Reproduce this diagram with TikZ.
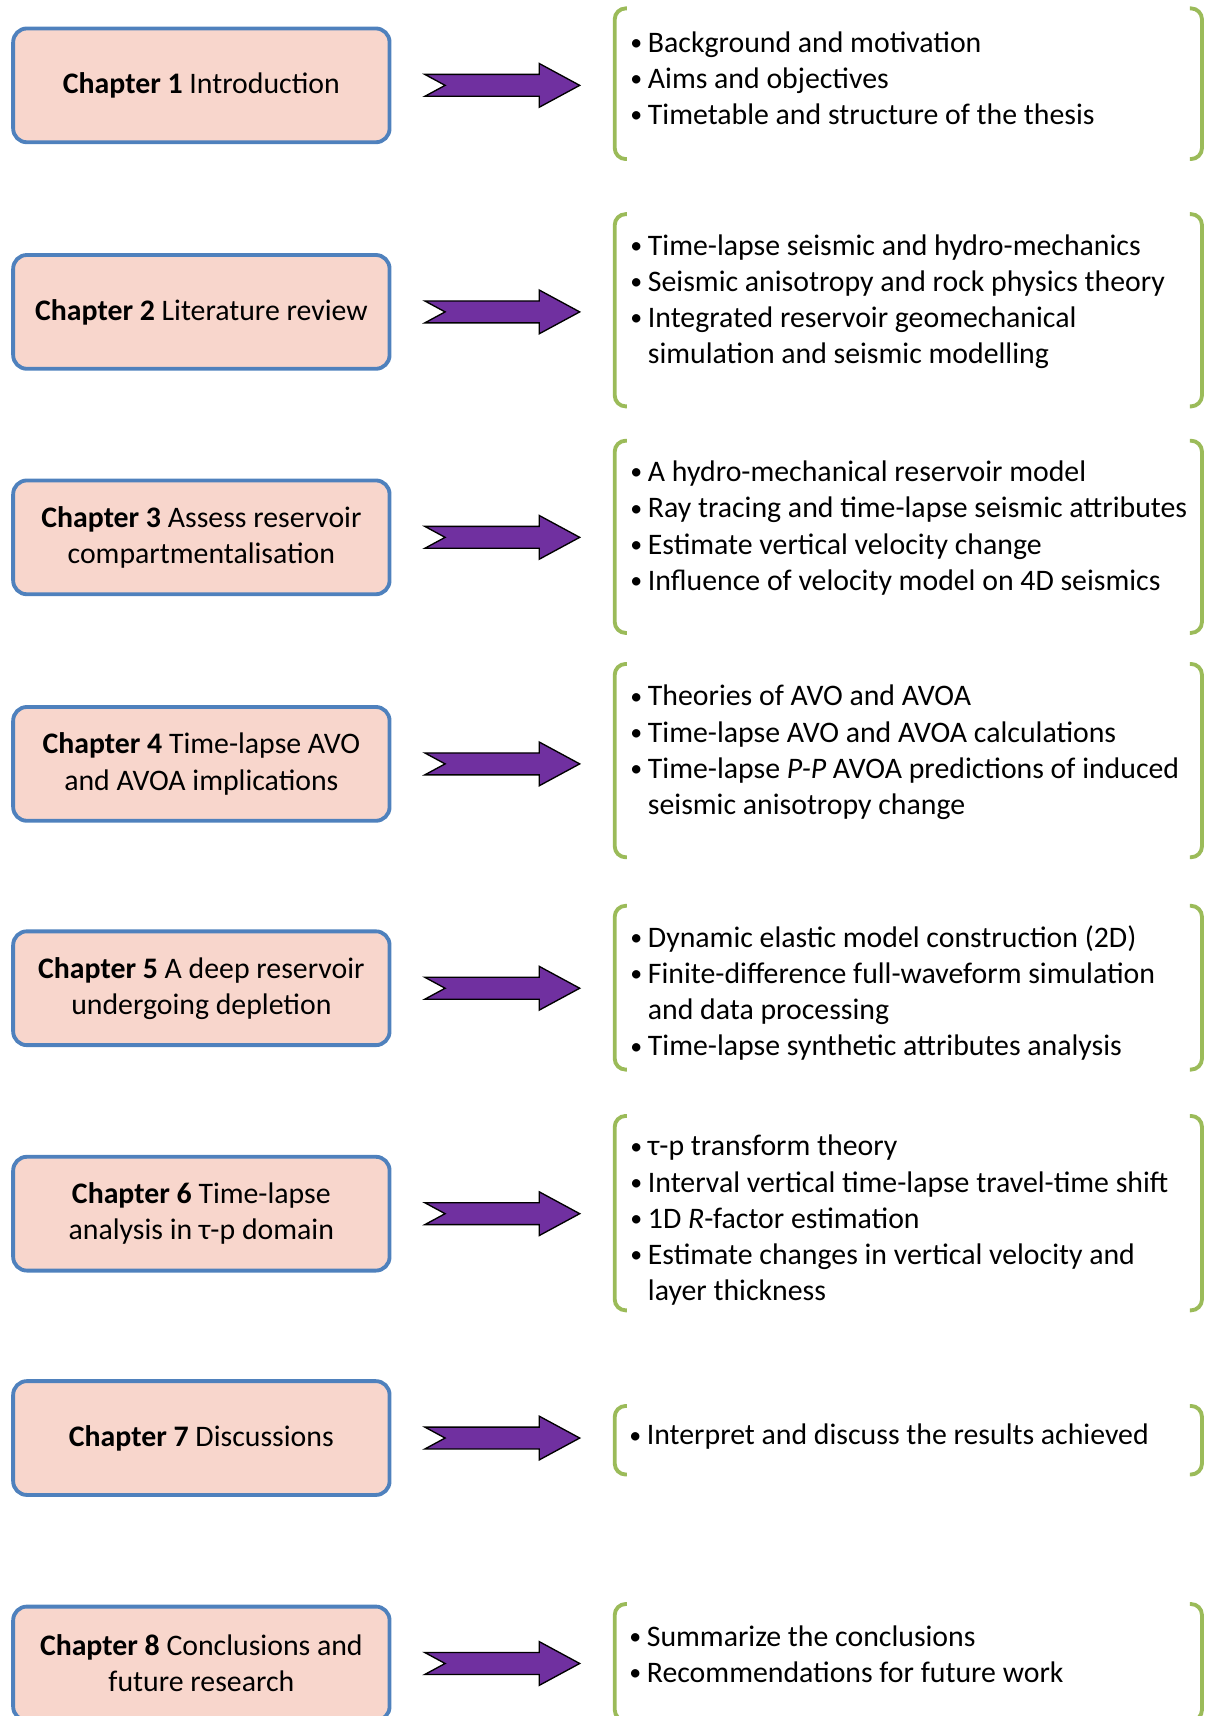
\documentclass[tikz,border=0pt]{standalone}
\usepackage{fontspec}
\setmainfont{Carlito}
\usetikzlibrary{calc}

\definecolor{chapblue}{RGB}{79,129,189}
\definecolor{chapfill}{RGB}{248,214,204}
\definecolor{listgreen}{RGB}{155,187,89}
\definecolor{arrowpurple}{RGB}{112,48,160}

\newcommand{\itm}{\makebox[0.34cm][l]{\hspace*{0.02cm}\raisebox{0.06em}{\scalebox{0.8}{\textbullet}}}}
\newcommand{\cont}{\hspace*{0.34cm}}

% block arrow with notched tail, from a chapter box to its list
\newcommand{\fatarrow}[2]{%
  \filldraw[fatarrow] let \p1=($(#1.east)+(0.61cm,0)$), \p2=($(#2.west)+(-0.64cm,0)$) in
    (\x1,\y1+0.2cm) -- (\x2-0.74cm,\y1+0.2cm) -- (\x2-0.74cm,\y1+0.4cm) -- (\x2,\y1)
    -- (\x2-0.74cm,\y1-0.4cm) -- (\x2-0.74cm,\y1-0.2cm) -- (\x1,\y1-0.2cm) -- (\x1+0.37cm,\y1) -- cycle;
}
% green brackets round a list
\newcommand{\brackets}[1]{%
  \draw[greenbracket] ($(#1.north west)+(11,0)$) -- (#1.north west) -- (#1.south west) -- ($(#1.south west)+(11,0)$);
  \draw[greenbracket] ($(#1.north east)+(-11,0)$) -- (#1.north east) -- (#1.south east) -- ($(#1.south east)+(-11,0)$);
}

\begin{document}
\begin{tikzpicture}[x=0.02cm,y=-0.02cm,
    chapbox/.style={draw=chapblue,line width=2pt,fill=chapfill,rounded corners=0.25cm,
      minimum width=6.88cm,minimum height=2.08cm,align=center,inner sep=0pt,
      font=\fontsize{15.5}{18.8}\selectfont},
    listframe/.style={minimum width=10.72cm,inner sep=0pt},
    itemtext/.style={anchor=west,align=left,inner sep=0pt,font=\fontsize{15.5}{18.8}\selectfont},
    greenbracket/.style={draw=listgreen,line width=2pt,rounded corners=0.2cm},
    fatarrow/.style={fill=arrowpurple,draw=black,line width=0.7pt}]
  \clip (0,0) rectangle (1103,1568);
  %chapters
  \node[chapbox] (ch1) at (184,78) {\textbf{Chapter 1} Introduction};
  \node[chapbox] (ch2) at (184,285) {\textbf{Chapter 2} Literature review};
  \node[chapbox] (ch3) at (184,491) {\textbf{Chapter 3} Assess reservoir\\compartmentalisation};
  \node[chapbox] (ch4) at (184,698) {\textbf{Chapter 4} Time-lapse AVO\\and AVOA implications};
  \node[chapbox] (ch5) at (184,903) {\textbf{Chapter 5} A deep reservoir\\undergoing depletion};
  \node[chapbox] (ch6) at (184,1109) {\textbf{Chapter 6} Time-lapse\\analysis in τ-p domain};
  \node[chapbox] (ch7) at (184,1314) {\textbf{Chapter 7} Discussions};
  \node[chapbox] (ch8) at (184,1520) {\textbf{Chapter 8} Conclusions and\\future research};
  %lists
  \node[listframe,minimum height=2.74cm] (list1) at (830,76.5) {};
  \node[listframe,minimum height=3.5cm] (list2) at (830,283.5) {};
  \node[listframe,minimum height=3.5cm] (list3) at (830,490.5) {};
  \node[listframe,minimum height=3.52cm] (list4) at (830,695) {};
  \node[listframe,minimum height=2.98cm] (list5) at (830,902.5) {};
  \node[listframe,minimum height=3.54cm] (list6) at (830,1108.5) {};
  \node[listframe,minimum height=1.24cm] (list7) at (830,1316) {};
  \node[listframe,minimum height=2.12cm] (list8) at (830,1519) {};
  \node[itemtext] (txt1) at ($(list1.west)+(13,-5)$) {\itm Background and motivation\\\itm Aims and objectives\\\itm Timetable and structure of the thesis};
  \node[itemtext] (txt2) at ($(list2.west)+(13,-8)$) {\itm Time-lapse seismic and hydro-mechanics\\\itm Seismic anisotropy and rock physics theory\\\itm Integrated reservoir geomechanical\\\cont simulation and seismic modelling};
  \node[itemtext] (txt3) at ($(list3.west)+(13,-8)$) {\itm A hydro-mechanical reservoir model\\\itm Ray tracing and time-lapse seismic attributes\\\itm Estimate vertical velocity change\\\itm Influence of velocity model on 4D seismics};
  \node[itemtext] (txt4) at ($(list4.west)+(13,-7.5)$) {\itm Theories of AVO and AVOA\\\itm Time-lapse AVO and AVOA calculations\\\itm Time-lapse \textit{P-P} AVOA predictions of induced\\\cont seismic anisotropy change};
  \node[itemtext] (txt5) at ($(list5.west)+(13,5)$) {\itm Dynamic elastic model construction (2D)\\\itm Finite-difference full-waveform simulation\\\cont and data processing\\\itm Time-lapse synthetic attributes analysis};
  \node[itemtext] (txt6) at ($(list6.west)+(13,6.5)$) {\itm τ-p transform theory\\\itm Interval vertical time-lapse travel-time shift\\\itm 1D \textit{R}-factor estimation\\\itm Estimate changes in vertical velocity and\\\cont layer thickness};
  \node[itemtext] (txt7) at ($(list7.west)+(12,-3)$) {\itm Interpret and discuss the results achieved};
  \node[itemtext] (txt8) at ($(list8.west)+(12,-7.5)$) {\itm Summarize the conclusions\\\itm Recommendations for future work};
  %arrows and brackets
  \foreach \i in {1,...,8} {
    \fatarrow{ch\i}{list\i}
    \brackets{list\i}
  }
\end{tikzpicture}
\end{document}
